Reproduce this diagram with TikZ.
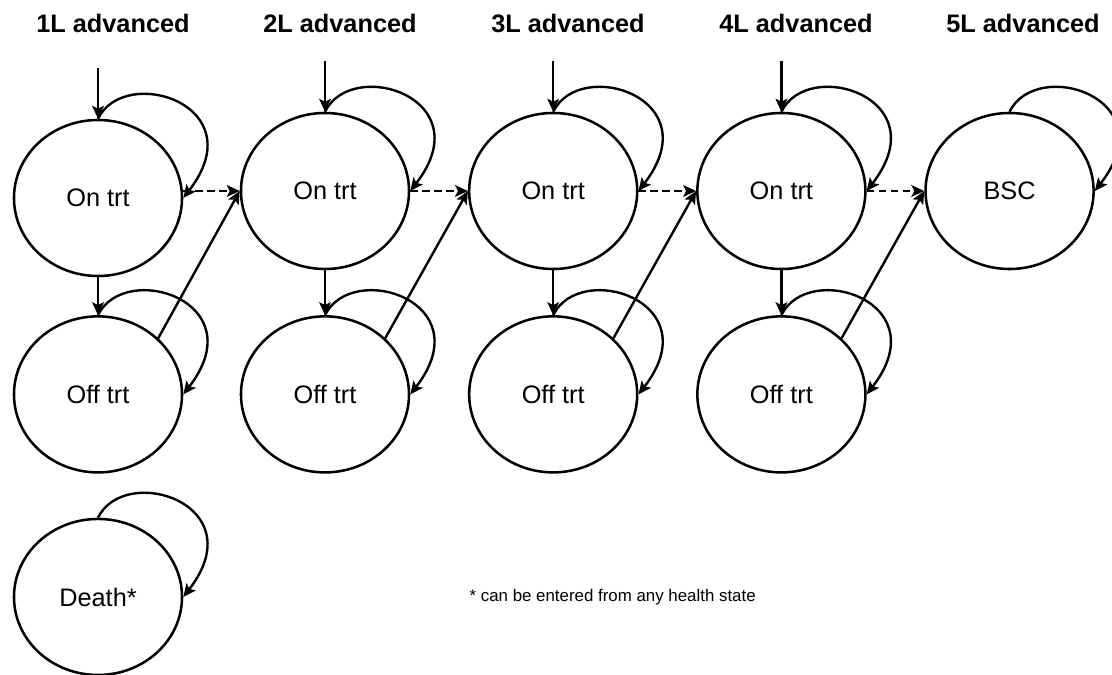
\documentclass[tikz,border=0pt]{standalone}
\usepackage{fontspec}
\setmainfont{Liberation Sans}
\usetikzlibrary{arrows.meta,positioning,shapes.geometric}
\newcommand{\selfarc}[1]{\draw[arr] (#1.north) .. controls +(27,-55) and +(72,-93) .. (#1.east);}

\begin{document}
\begin{tikzpicture}[
  x=0.025cm, y=-0.025cm,
  state/.style={ellipse, draw, line width=1.8pt, inner sep=0pt,
    minimum width=4.2cm, minimum height=3.9cm, font=\fontsize{18}{21}\selectfont},
  head/.style={anchor=base, font=\bfseries\fontsize{18}{21}\selectfont},
  arr/.style={-{Stealth[length=3.2mm,width=2.9mm,inset=0.7mm]}, line width=1.7pt},
  dsh/.style={arr, dash pattern=on 5.5pt off 3pt}
]
\useasboundingbox (0,0) rectangle (1112,675);

\node[head] (h1) at (113,33) {1L advanced};
\node[head] (h2) at (340,33) {2L advanced};
\node[head] (h3) at (568,33) {3L advanced};
\node[head] (h4) at (796,33) {4L advanced};
\node[head] (h5) at (1023,33) {5L advanced};

\node[state] (on1) at (98,198) {On trt};
\node[state] (on2) at (325,191) {On trt};
\node[state, right=1.44cm of on2] (on3) {On trt};
\node[state, right=1.44cm of on3] (on4) {On trt};
\node[state, right=1.44cm of on4] (bsc) {BSC};

\node[state, below=1.12cm of on2] (off2) {Off trt};
\node[state] (off1) at (on1 |- off2) {Off trt};
\node[state, below=1.12cm of on3] (off3) {Off trt};
\node[state, below=1.12cm of on4] (off4) {Off trt};
\node[state, below=1.1cm of off1] (death) {Death*};

\node[right=7.15cm of death, inner sep=0pt, font=\fontsize{12}{14}\selectfont] (note)
  {* can be entered from any health state};

\coordinate[above=1.27cm of on1] (in1);
\coordinate[above=1.27cm of on2] (in2);
\coordinate[above=1.27cm of on3] (in3);
\coordinate[above=1.27cm of on4] (in4);

\draw[arr] (in1) -- (on1.north);
\draw[arr] (in2) -- (on2.north);
\draw[arr] (in3) -- (on3.north);
\draw[arr] (in4) -- (on4.north);

\draw[arr] (on1) -- (off1);
\draw[arr] (on2) -- (off2);
\draw[arr] (on3) -- (off3);
\draw[arr] (on4) -- (off4);

\selfarc{on1}
\selfarc{on2}
\selfarc{on3}
\selfarc{on4}
\selfarc{bsc}
\selfarc{off1}
\selfarc{off2}
\selfarc{off3}
\selfarc{off4}
\selfarc{death}

\draw[dsh] (on1.east |- on2.west) -- (on2.west);
\draw[dsh] (on2.east) -- (on3.west);
\draw[dsh] (on3.east) -- (on4.west);
\draw[dsh] (on4.east) -- (bsc.west);

\draw[arr] (off1.43) -- (on2.west);
\draw[arr] (off2.43) -- (on3.west);
\draw[arr] (off3.43) -- (on4.west);
\draw[arr] (off4.43) -- (bsc.west);
\end{tikzpicture}
\end{document}
